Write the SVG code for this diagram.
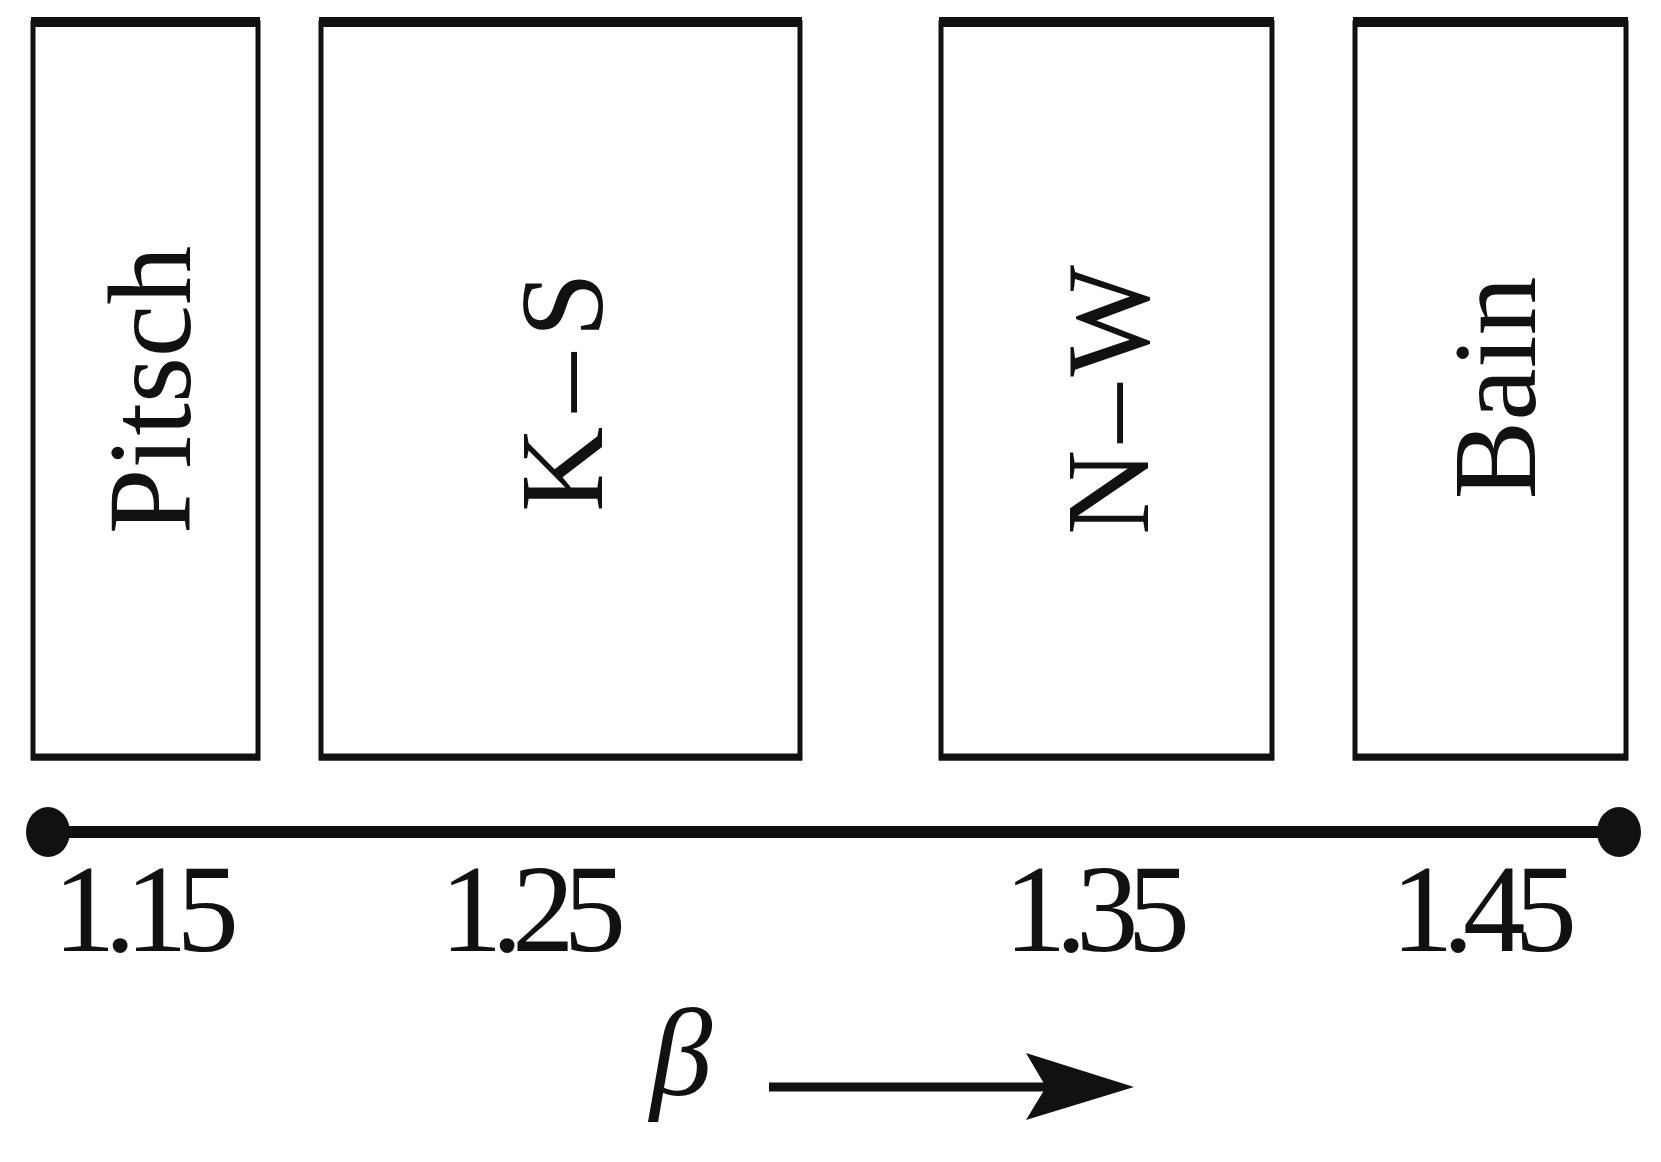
<svg xmlns="http://www.w3.org/2000/svg" width="1661" height="1162" viewBox="0 0 1661 1162">
<style>
.box{fill:#fff;stroke:#111;stroke-width:5}
.top{stroke:#111;stroke-width:10}
.bot{stroke:#111;stroke-width:7}
.lbl{font-family:"Liberation Serif","Times New Roman",Times,serif;font-size:118px;fill:#111;text-anchor:middle;dominant-baseline:central}
.num{font-family:"Liberation Serif","Times New Roman",Times,serif;font-size:125px;fill:#111}
</style>
<rect width="1661" height="1162" fill="#fff"/>
<g id="pitsch"><rect class="box" x="33" y="23" width="225" height="735"/><line class="top" x1="31" y1="22" x2="260" y2="22"/><line class="bot" x1="31" y1="757" x2="260" y2="757"/><text class="lbl" transform="translate(150,390) rotate(-90)">Pitsch</text></g>
<g id="ks"><rect class="box" x="321" y="23" width="479" height="735"/><line class="top" x1="319" y1="22" x2="802" y2="22"/><line class="bot" x1="319" y1="757" x2="802" y2="757"/><text class="lbl" transform="translate(562,392) rotate(-90)" textLength="240">K–S</text></g>
<g id="nw"><rect class="box" x="941" y="23" width="331" height="735"/><line class="top" x1="939" y1="22" x2="1274" y2="22"/><line class="bot" x1="939" y1="757" x2="1274" y2="757"/><text class="lbl" transform="translate(1108,400) rotate(-90)" textLength="270">N–W</text></g>
<g id="bain"><rect class="box" x="1355" y="23" width="271" height="735"/><line class="top" x1="1353" y1="22" x2="1628" y2="22"/><line class="bot" x1="1353" y1="757" x2="1628" y2="757"/><text class="lbl" transform="translate(1495,388) rotate(-90)">Bain</text></g>
<g id="connectors">
<line x1="48" y1="832" x2="1619" y2="832" stroke="#111" stroke-width="12"/>
<ellipse cx="48" cy="832" rx="22" ry="25" fill="#111"/>
<ellipse cx="1619" cy="832" rx="22" ry="25" fill="#111"/>
<line x1="769" y1="1087" x2="1065" y2="1087" stroke="#111" stroke-width="9"/>
<polygon points="1026,1053 1134,1087 1026,1120 1046,1087" fill="#111"/>
</g>
<g id="labels">
<text class="num" x="53" y="951" textLength="186">1.15</text>
<text class="num" x="440" y="951" textLength="186">1.25</text>
<text class="num" x="1004" y="951" textLength="186">1.35</text>
<text class="num" x="1391" y="951" textLength="186">1.45</text>
<text x="650" y="1095" font-family="'Liberation Serif','Times New Roman',serif" font-style="italic" font-size="125" fill="#111">β</text>
</g>
</svg>
